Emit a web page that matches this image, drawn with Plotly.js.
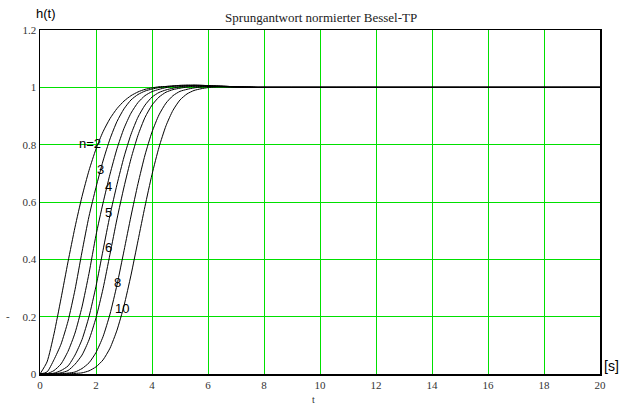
<!DOCTYPE html>
<html>
<head>
<meta charset="utf-8">
<script src="https://cdn.plot.ly/plotly-3.0.1.min.js"></script>
<style>html,body{margin:0;padding:0;background:#fff;}#chart{width:626px;height:406px;}</style>
</head>
<body>
<div id="chart"></div>
<script>
// time axis samples [s]
const tValues = [0,0.25,0.5,0.75,1,1.25,1.5,1.75,2,2.25,2.5,2.75,3,3.25,3.5,3.75,4,4.25,4.5,4.75,5,5.25,5.5,5.75,6,6.25,6.5,6.75,7,7.25,7.5,7.75,8,20];
// step responses, one array per filter order
const h_n2  = [0,0.042,0.140,0.263,0.391,0.512,0.619,0.710,0.785,0.845,0.891,0.926,0.952,0.971,0.984,0.993,0.998,1.002,1.003,1.004,1.004,1.004,1.004,1.003,1.003,1.002,1.002,1.001,1.001,1.001,1.0,1.0,1.0,1.0];
const h_n3  = [0,0.007,0.05,0.104,0.184,0.294,0.426,0.550,0.651,0.743,0.820,0.881,0.925,0.956,0.975,0.987,0.994,0.999,1.003,1.005,1.006,1.006,1.006,1.005,1.004,1.003,1.002,1.002,1.001,1.001,1.0,1.0,1.0,1.0];
const h_n4  = [0,0.001,0.012,0.035,0.079,0.143,0.234,0.351,0.484,0.596,0.697,0.786,0.857,0.910,0.947,0.971,0.985,0.993,0.999,1.004,1.007,1.008,1.008,1.007,1.006,1.004,1.003,1.002,1.001,1.001,1.0,1.0,1.0,1.0];
const h_n5  = [0,0,0.003,0.012,0.028,0.066,0.120,0.200,0.306,0.431,0.554,0.661,0.757,0.836,0.896,0.938,0.966,0.982,0.991,0.997,1.002,1.005,1.007,1.007,1.006,1.005,1.004,1.003,1.002,1.001,1.001,1.0,1.0,1.0];
const h_n6  = [0,0,0.001,0.004,0.012,0.034,0.066,0.119,0.196,0.297,0.418,0.541,0.652,0.751,0.833,0.895,0.938,0.966,0.983,0.992,0.997,1.001,1.004,1.005,1.006,1.005,1.004,1.003,1.002,1.001,1.001,1.0,1.0,1.0];
const h_n8  = [0,0,0,0.001,0.003,0.007,0.019,0.039,0.075,0.130,0.209,0.311,0.430,0.551,0.664,0.764,0.844,0.904,0.945,0.971,0.986,0.993,0.998,1.001,1.003,1.004,1.004,1.003,1.002,1.001,1.001,1.0,1.0,1.0];
const h_n10 = [0,0,0,0,0.001,0.002,0.004,0.011,0.025,0.049,0.090,0.153,0.238,0.345,0.465,0.585,0.696,0.791,0.866,0.920,0.956,0.977,0.989,0.995,0.999,1.001,1.002,1.002,1.002,1.001,1.001,1.0,1.0,1.0];
const orders = ["2","3","4","5","6","8","10"];
const curveLabels = ["n=2","3","4","5","6","8","10"];
const labelT = [1.79,2.15,2.45,2.45,2.45,2.77,2.93];
const labelH = [0.803,0.712,0.653,0.563,0.441,0.319,0.228];
const xTicks = [0,2,4,6,8,10,12,14,16,18,20];
const yTicks = [0,0.2,0.4,0.6,0.8,1,1.2];

const series = [h_n2,h_n3,h_n4,h_n5,h_n6,h_n8,h_n10];
const traces = series.map((h,i)=>({
  type:'scatter', mode:'lines', x:tValues, y:h, name:'n='+orders[i],
  line:{color:'#000', width:1, shape:'spline', smoothing:0.6},
  hoverinfo:'skip'
}));

const serif = 'Liberation Serif, Times New Roman, serif';
const sans = 'Liberation Sans, Arial, sans-serif';
const annotations = curveLabels.map((s,i)=>({
  x:labelT[i], y:labelH[i], xref:'x', yref:'y', text:s, showarrow:false,
  font:{family:sans, size:13, color:'#000'}, xanchor:'center', yanchor:'middle'
}));
annotations.push({xref:'paper', yref:'paper', x:0.0108, y:1.049, text:'h(t)', showarrow:false, font:{family:sans, size:13, color:'#000'}, xanchor:'center', yanchor:'middle'});
annotations.push({xref:'paper', yref:'paper', x:1.02, y:0.022, text:'[s]', showarrow:false, font:{family:sans, size:14, color:'#000'}, xanchor:'center', yanchor:'middle'});
annotations.push({xref:'paper', yref:'paper', x:0.489, y:-0.074, text:'t', showarrow:false, font:{family:serif, size:10, color:'#333'}, xanchor:'center', yanchor:'middle'});
annotations.push({xref:'paper', yref:'paper', x:-0.057, y:0.17, text:'-', showarrow:false, font:{family:serif, size:11, color:'#333'}, xanchor:'center', yanchor:'middle'});

const layout = {
  width:626, height:406,
  margin:{l:40, r:26, t:30, b:32, pad:0},
  paper_bgcolor:'#fff', plot_bgcolor:'#fff',
  showlegend:false,
  title:{text:'Sprungantwort normierter Bessel-TP', font:{family:serif, size:13, color:'#222'}, xref:'paper', x:0.502, xanchor:'center', yref:'container', y:0.956, yanchor:'middle'},
  xaxis:{range:[0,20], tickvals:xTicks, ticktext:xTicks.map(String), showgrid:true, gridcolor:'#00e000', gridwidth:1,
         zeroline:false, showline:true, linecolor:'#000', linewidth:1.5, mirror:true, ticks:'',
         tickfont:{family:serif, size:11, color:'#333'}, fixedrange:true},
  yaxis:{range:[0,1.2], tickvals:yTicks, ticktext:yTicks.map(String), showgrid:true, gridcolor:'#00e000', gridwidth:1,
         zeroline:false, showline:true, linecolor:'#000', linewidth:1.5, mirror:true, ticks:'',
         tickfont:{family:serif, size:11, color:'#333'}, fixedrange:true},
  annotations:annotations
};
Plotly.newPlot('chart', traces, layout, {staticPlot:true, displayModeBar:false});
</script>
</body>
</html>
